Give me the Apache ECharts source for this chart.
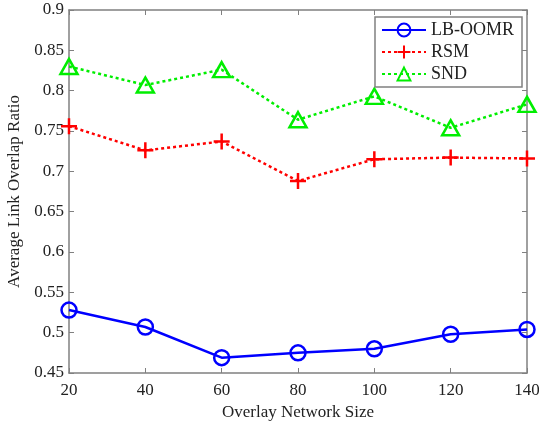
<!DOCTYPE html>
<html><head><meta charset="utf-8">
<script src="https://cdn.jsdelivr.net/npm/echarts@6/dist/echarts.min.js"></script>
<style>html,body{margin:0;padding:0;background:#fff}#c{width:539px;height:421px}</style>
</head><body><div id="c"></div>
<script>
const sizes = [20, 40, 60, 80, 100, 120, 140];
const lbOomr = [0.528, 0.507, 0.469, 0.475, 0.480, 0.498, 0.504];
const rsm = [0.756, 0.726, 0.737, 0.688, 0.715, 0.717, 0.716];
const snd = [0.830, 0.807, 0.826, 0.764, 0.793, 0.754, 0.783];
const seriesNames = ['LB-OOMR', 'RSM', 'SND'];

const font = 'Liberation Serif, Times New Roman, serif';
const axisCol = '#808080';
const txtCol = '#222222';
const pair = (arr) => sizes.map((s, i) => [s, arr[i]]);

const chart = echarts.init(document.getElementById('c'));
const baseX = {
  type: 'value', min: 20, max: 140, interval: 20,
  axisLine: {show: true, lineStyle: {color: axisCol, width: 1.5}},
  axisTick: {show: true, inside: true, length: 5, lineStyle: {color: axisCol}},
  splitLine: {show: false}
};
const baseY = {
  type: 'value', min: 0.45, max: 0.9, interval: 0.05,
  axisLine: {show: true, lineStyle: {color: axisCol, width: 1.5}},
  axisTick: {show: true, inside: true, length: 5, lineStyle: {color: axisCol}},
  splitLine: {show: false}
};
chart.setOption({
  animation: false,
  backgroundColor: '#fff',
  grid: {left: 69, right: 12, top: 10, bottom: 48, containLabel: false, outerBoundsMode: 'none'},
  legend: {
    right: 17, top: 17, orient: 'vertical',
    backgroundColor: '#fff', borderColor: axisCol, borderWidth: 1.5,
    padding: [4, 8, 4, 6], itemGap: 4, itemWidth: 44, itemHeight: 16,
    textStyle: {fontFamily: font, fontSize: 18, color: txtCol},
    data: seriesNames
  },
  xAxis: [
    Object.assign({}, baseX, {
      position: 'bottom',
      name: 'Overlay Network Size', nameLocation: 'middle', nameGap: 28,
      nameTextStyle: {fontFamily: font, fontSize: 17, color: txtCol},
      axisLabel: {fontFamily: font, fontSize: 17, color: txtCol, margin: 9}
    }),
    Object.assign({}, baseX, {position: 'top', axisLabel: {show: false}})
  ],
  yAxis: [
    Object.assign({}, baseY, {
      position: 'left',
      name: 'Average Link Overlap Ratio', nameLocation: 'middle', nameGap: 39,
      nameTextStyle: {fontFamily: font, fontSize: 17, color: txtCol},
      axisLabel: {fontFamily: font, fontSize: 17, color: txtCol, margin: 5,
        formatter: (v) => String(parseFloat(v.toFixed(2)))}
    }),
    Object.assign({}, baseY, {position: 'right', axisLabel: {show: false}})
  ],
  series: [
    {
      name: 'LB-OOMR', type: 'line', data: pair(lbOomr),
      symbol: 'circle', symbolSize: 15,
      lineStyle: {color: '#0000ff', width: 2.5},
      itemStyle: {color: 'rgba(0,0,0,0)', borderColor: '#0000ff', borderWidth: 2.5}
    },
    {
      name: 'RSM', type: 'line', data: pair(rsm),
      symbol: 'path://M10,0L10,20M0,10L20,10', symbolSize: 16,
      lineStyle: {color: '#ff0000', width: 2.5, type: [3, 3]},
      itemStyle: {color: 'rgba(0,0,0,0)', borderColor: '#ff0000', borderWidth: 2.5}
    },
    {
      name: 'SND', type: 'line', data: pair(snd),
      symbol: 'triangle', symbolSize: [17, 15],
      lineStyle: {color: '#00ee00', width: 2.5, type: [3, 3]},
      itemStyle: {color: 'rgba(0,0,0,0)', borderColor: '#00ee00', borderWidth: 2.5}
    }
  ]
});
</script>
</body></html>
